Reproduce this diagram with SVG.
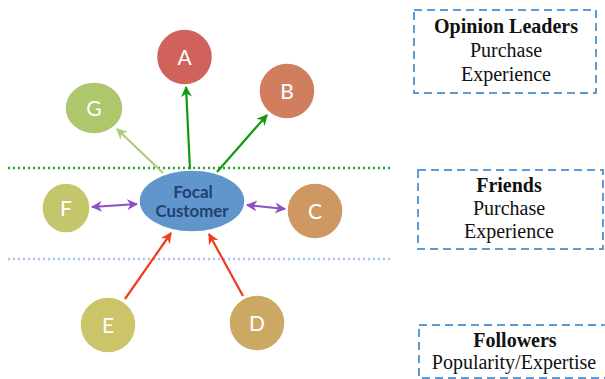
<svg xmlns="http://www.w3.org/2000/svg" width="605" height="379" viewBox="0 0 605 379">
  <defs>
    <style>
      .node-label { font-family: Lato, "Open Sans", "Liberation Sans", sans-serif; font-size: 21px; fill: #ffffff; text-anchor: middle; }
      .focal-label { font-family: Lato, "Open Sans", "Liberation Sans", sans-serif; font-size: 17px; font-weight: bold; fill: #23406e; text-anchor: middle; }
      .node-shape { stroke: #ffffff; stroke-width: 1.5; }
      .legend-box { fill: none; stroke: #5b9bd5; stroke-width: 2; stroke-dasharray: 8 5; }
      .legend-title { font-family: "Liberation Serif", "Times New Roman", serif; font-size: 20px; font-weight: bold; fill: #111111; text-anchor: middle; }
      .legend-text { font-family: "Liberation Serif", "Times New Roman", serif; font-size: 20px; fill: #111111; text-anchor: middle; }
      .divider { stroke-width: 2.5; stroke-dasharray: 2 3; fill: none; }
      .link { stroke-width: 2.2; fill: none; }
    </style>
    <marker id="head-green" viewBox="0 0 10 10" refX="9" refY="5" markerWidth="5" markerHeight="5" orient="auto-start-reverse" markerUnits="strokeWidth">
      <path d="M0,0 L10,5 L0,10 L3,5 Z" fill="#139a13"/>
    </marker>
    <marker id="head-lightgreen" viewBox="0 0 10 10" refX="9" refY="5" markerWidth="5" markerHeight="5" orient="auto-start-reverse" markerUnits="strokeWidth">
      <path d="M0,0 L10,5 L0,10 L3,5 Z" fill="#a9cf7a"/>
    </marker>
    <marker id="head-purple" viewBox="0 0 10 10" refX="9" refY="5" markerWidth="5" markerHeight="5" orient="auto-start-reverse" markerUnits="strokeWidth">
      <path d="M0,0 L10,5 L0,10 L3,5 Z" fill="#8e4fc2"/>
    </marker>
    <marker id="head-red" viewBox="0 0 10 10" refX="9" refY="5" markerWidth="5" markerHeight="5" orient="auto-start-reverse" markerUnits="strokeWidth">
      <path d="M0,0 L10,5 L0,10 L3,5 Z" fill="#f23a1c"/>
    </marker>
  </defs>

  <rect width="605" height="379" fill="#ffffff"/>

  <!-- layer dividers -->
  <g id="dividers">
    <line class="divider" x1="8" y1="168" x2="390" y2="168" stroke="#22a52a"/>
    <line class="divider" x1="8" y1="259" x2="390" y2="259" stroke="#a9c8ea"/>
  </g>

  <!-- connectors -->
  <g id="connectors">
    <line class="link" x1="190" y1="170" x2="186" y2="87" stroke="#139a13" marker-end="url(#head-green)"/>
    <line class="link" x1="217" y1="172" x2="267" y2="115" stroke="#139a13" marker-end="url(#head-green)"/>
    <line class="link" x1="163" y1="173" x2="117" y2="129" stroke="#a9cf7a" marker-end="url(#head-lightgreen)"/>
    <line class="link" x1="92" y1="207" x2="137" y2="204" stroke="#8e4fc2" marker-start="url(#head-purple)" marker-end="url(#head-purple)"/>
    <line class="link" x1="247" y1="205" x2="285" y2="209" stroke="#8e4fc2" marker-start="url(#head-purple)" marker-end="url(#head-purple)"/>
    <line class="link" x1="125" y1="299" x2="171" y2="233" stroke="#f23a1c" marker-end="url(#head-red)"/>
    <line class="link" x1="243" y1="296" x2="209" y2="234" stroke="#f23a1c" marker-end="url(#head-red)"/>
  </g>

  <!-- people -->
  <g id="node-focal">
    <ellipse class="node-shape" cx="192" cy="201" rx="53" ry="31" fill="#6096cc"/>
    <text class="focal-label" x="193" y="198">Focal</text>
    <text class="focal-label" x="192" y="217" textLength="73" lengthAdjust="spacingAndGlyphs">Customer</text>
  </g>
  <g id="node-a">
    <circle class="node-shape" cx="184.5" cy="57" r="28" fill="#d0625b"/>
    <text class="node-label" x="184.5" y="65">A</text>
  </g>
  <g id="node-b">
    <circle class="node-shape" cx="287" cy="91" r="28" fill="#d07e5e"/>
    <text class="node-label" x="287" y="99">B</text>
  </g>
  <g id="node-c">
    <circle class="node-shape" cx="315" cy="211" r="28" fill="#cf9762"/>
    <text class="node-label" x="315" y="219">C</text>
  </g>
  <g id="node-d">
    <circle class="node-shape" cx="257" cy="323" r="28" fill="#cca962"/>
    <text class="node-label" x="257" y="331">D</text>
  </g>
  <g id="node-e">
    <circle class="node-shape" cx="108" cy="325" r="28" fill="#cbc468"/>
    <text class="node-label" x="108" y="333">E</text>
  </g>
  <g id="node-f">
    <ellipse class="node-shape" cx="66" cy="208" rx="24" ry="25" fill="#c3c66b"/>
    <text class="node-label" x="66" y="216">F</text>
  </g>
  <g id="node-g">
    <ellipse class="node-shape" cx="94" cy="108" rx="29" ry="26" fill="#aec76c"/>
    <text class="node-label" x="94" y="116">G</text>
  </g>

  <!-- legend -->
  <g id="legend-opinion-leaders">
    <rect class="legend-box" x="414" y="10" width="182" height="83"/>
    <text class="legend-title" x="506" y="33">Opinion Leaders</text>
    <text class="legend-text" x="506" y="57">Purchase</text>
    <text class="legend-text" x="506" y="81">Experience</text>
  </g>
  <g id="legend-friends">
    <rect class="legend-box" x="418" y="170" width="185" height="79"/>
    <text class="legend-title" x="509" y="192">Friends</text>
    <text class="legend-text" x="509" y="215">Purchase</text>
    <text class="legend-text" x="509" y="238">Experience</text>
  </g>
  <g id="legend-followers">
    <rect class="legend-box" x="419" y="325" width="200" height="53"/>
    <text class="legend-title" x="515" y="347">Followers</text>
    <text class="legend-text" x="514" y="369">Popularity/Expertise</text>
  </g>
</svg>
